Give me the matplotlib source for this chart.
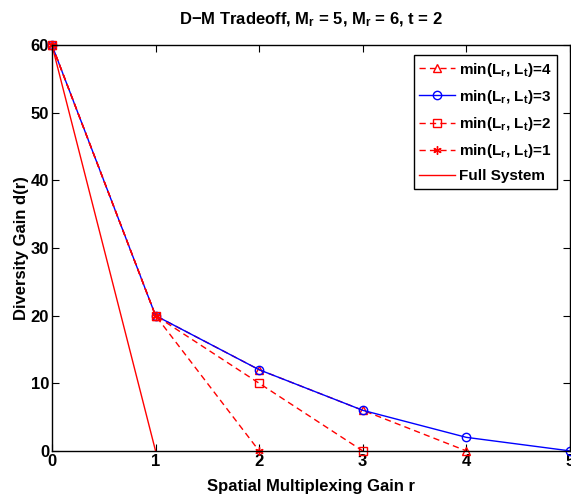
import matplotlib
matplotlib.use("Agg")
import matplotlib.pyplot as plt

# diversity-multiplexing tradeoff curves
r4 = [0, 1, 2, 3, 4]
d4 = [60, 20, 12, 6, 0]
r3 = [0, 1, 2, 3, 4, 5]
d3 = [60, 20, 12, 6, 2, 0]
r2 = [0, 1, 2, 3]
d2 = [60, 20, 10, 0]
r1 = [0, 1, 2]
d1 = [60, 20, 0]
r_full = [0, 1]
d_full = [60, 0]

xticks = [0, 1, 2, 3, 4, 5]
yticks = [0, 10, 20, 30, 40, 50, 60]

plt.rcParams['font.family'] = ['Liberation Sans', 'DejaVu Sans']
plt.rcParams['font.weight'] = 'bold'
plt.rcParams['mathtext.fontset'] = 'custom'
plt.rcParams['mathtext.rm'] = 'Liberation Sans:bold'
plt.rcParams['mathtext.it'] = 'Liberation Sans:bold'
plt.rcParams['mathtext.bf'] = 'Liberation Sans:bold'
plt.rcParams['mathtext.default'] = 'bf'

dash = (4.5, 3)

fig = plt.figure(figsize=(5.71, 4.96), dpi=100)
ax = fig.add_axes([0.091, 0.091, 0.907, 0.818])

ax.plot(r4, d4, 'r--', dashes=dash, marker='^', mfc='none', ms=6, lw=1, clip_on=False,
        label=r'min(L$_r$, L$_t$)=4')
ax.plot(r3, d3, 'b-', marker='o', mfc='none', ms=6, lw=1, clip_on=False,
        label=r'min(L$_r$, L$_t$)=3')
ax.plot(r2, d2, 'r--', dashes=dash, marker='s', mfc='none', ms=6, lw=1, clip_on=False,
        label=r'min(L$_r$, L$_t$)=2')
ax.plot(r1, d1, 'r--', dashes=dash, marker=(6, 2, 0), ms=6, lw=1, clip_on=False,
        label=r'min(L$_r$, L$_t$)=1')
ax.plot(r_full, d_full, 'r-', lw=1, clip_on=False, label='Full System')

ax.set_xlim(0, 5)
ax.set_ylim(0, 60)
ax.set_xticks(xticks)
ax.set_yticks(yticks)
ax.tick_params(direction='in', top=True, right=True, labelsize=12, length=5, pad=2)
for s in ax.spines.values():
    s.set_linewidth(1)

ax.set_xlabel('Spatial Multiplexing Gain r', fontsize=12, fontweight='bold', labelpad=7.5)
ax.set_ylabel('Diversity Gain d(r)', fontsize=12, fontweight='bold', labelpad=1)
ax.set_title(r'D$-$M Tradeoff, M$_r$ = 5, M$_r$ = 6, t = 2', fontsize=12,
             fontweight='bold', pad=15)

leg = ax.legend(loc='upper right', bbox_to_anchor=(0.975, 0.975), borderaxespad=0,
                fontsize=11, fancybox=False, framealpha=1, edgecolor='black',
                handlelength=2.3, handletextpad=0.3, labelspacing=0.6, borderpad=0.35)
leg.get_frame().set_linewidth(1)

fig.savefig('out.png', dpi=100)
